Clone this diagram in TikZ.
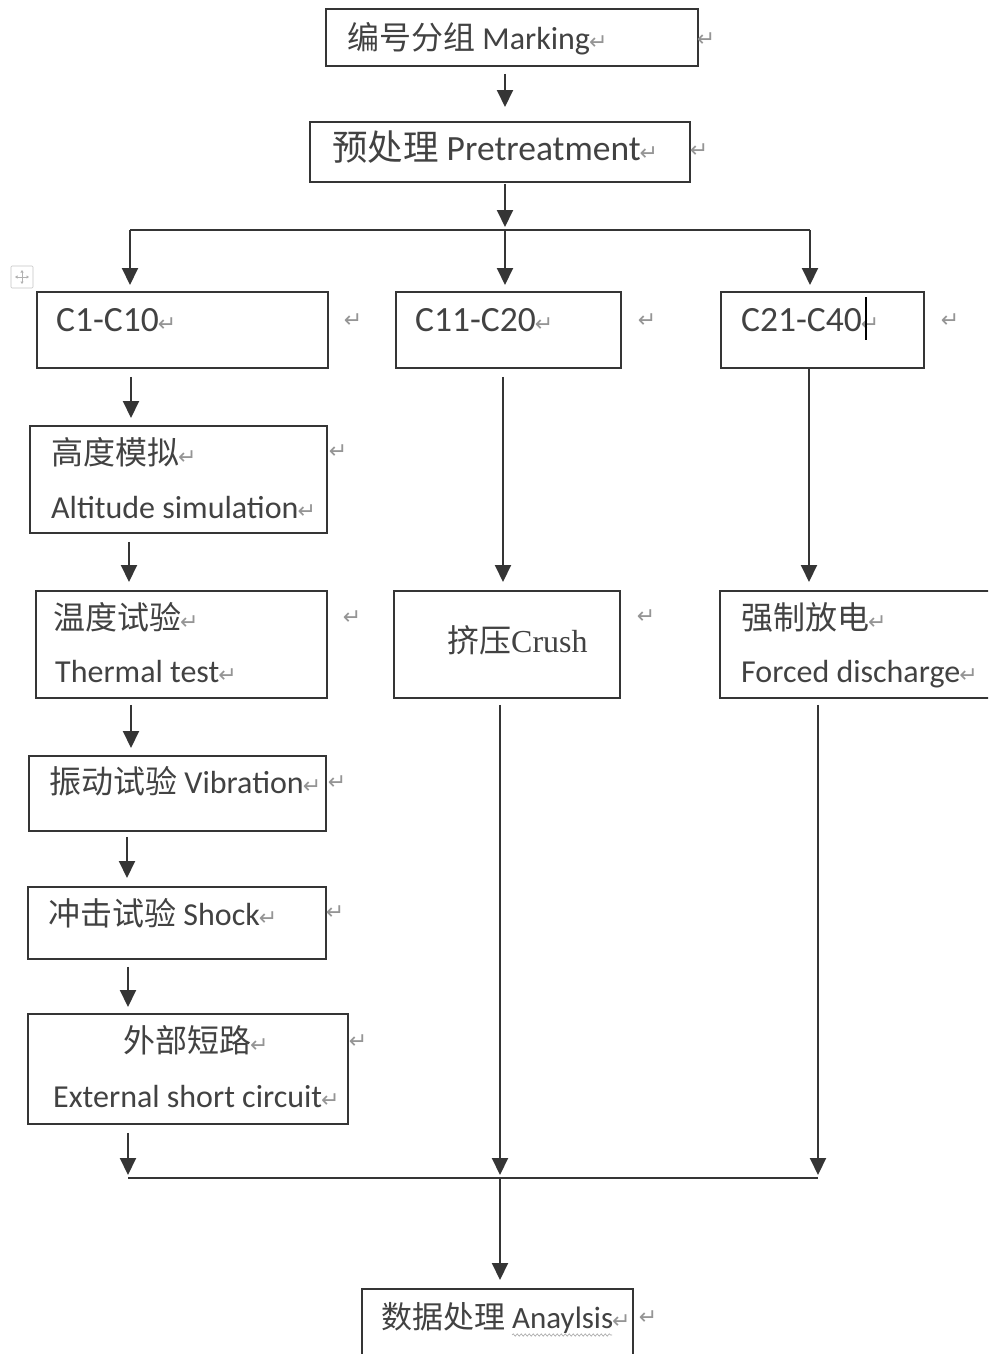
\documentclass[tikz,border=0pt]{standalone}
\usepackage{fontspec}
\setmainfont{Carlito}
\newfontfamily\cjk{Noto Sans CJK SC}
\newfontfamily\symf{DejaVu Sans}
\newfontfamily\serf{Liberation Serif}
\usetikzlibrary{arrows.meta,decorations.pathmorphing}
\definecolor{ink}{HTML}{353535}
\definecolor{txt}{HTML}{424242}
\definecolor{pmark}{HTML}{959595}
\newcommand{\rmk}{{\symf\fontsize{22}{22}\selectfont\color{pmark}\kern-1pt↵}}
\begin{document}
\begin{tikzpicture}[x=1pt,y=-1pt,
  box/.style={draw=ink, line width=1.8pt, rectangle, inner sep=0pt, anchor=north west},
  lbl/.style={anchor=base west, inner sep=0pt, text=txt, font=\fontsize{32}{38}\selectfont},
  big/.style={font=\fontsize{35.5}{40}\selectfont},
  mk/.style={inner sep=0pt, text=pmark, font=\symf\fontsize{22}{22}\selectfont},
  ln/.style={draw=ink, line width=2pt},
  arr/.style={draw=ink, line width=2pt, -{Triangle[length=17pt,width=16pt]}}]
\useasboundingbox (0,0) rectangle (988,1354);
\fill[white] (0,0) rectangle (988,1354);
\clip (0,0) rectangle (988,1354);

% boxes
\node[box, minimum width=372pt, minimum height=57pt] (marking) at (325,8) {};
\node[box, minimum width=380pt, minimum height=60pt] (pre) at (309,121) {};
\node[box, minimum width=291pt, minimum height=76pt] (c1) at (36,291) {};
\node[box, minimum width=225pt, minimum height=76pt] (c11) at (395,291) {};
\node[box, minimum width=203pt, minimum height=76pt] (c21) at (720,291) {};
\node[box, minimum width=297pt, minimum height=107pt] (alt) at (29,425) {};
\node[box, minimum width=291pt, minimum height=107pt] (therm) at (35,590) {};
\node[box, minimum width=226pt, minimum height=107pt] (crush) at (393,590) {};
\node[box, minimum width=300pt, minimum height=107pt] (forced) at (719,590) {};
\node[box, minimum width=297pt, minimum height=75pt] (vib) at (28,755) {};
\node[box, minimum width=298pt, minimum height=72pt] (shock) at (27,886) {};
\node[box, minimum width=320pt, minimum height=110pt] (ext) at (27,1013) {};
\node[box, minimum width=271pt, minimum height=100pt] (ana) at (361,1288) {};

% texts
\node[lbl] (t1) at (347,49) {{\cjk 编号分组} Marking\rmk};
\node[lbl, big] (t2) at (332,160) {{\cjk 预处理} Pretreatment\rmk};
\node[lbl, big] (t3) at (56,331) {C1-C10\rmk};
\node[lbl, big] (t4) at (415,331) {C11-C20\rmk};
\node[lbl, big] (t5) at (741,331) {C21-C40\rmk};
\node[lbl] (t6) at (51,464) {{\cjk 高度模拟}\rmk};
\node[lbl] (t7) at (51,518) {Altitude simulation\rmk};
\node[lbl] (t8) at (53,629) {{\cjk 温度试验}\rmk};
\node[lbl] (t9) at (55,682) {Thermal test\rmk};
\node[lbl] (t10) at (447,652) {{\cjk 挤压}{\serf Crush}};
\node[lbl] (t11) at (741,629) {{\cjk 强制放电}\rmk};
\node[lbl] (t12) at (741,682) {Forced discharge\rmk};
\node[lbl] (t13) at (49,793) {{\cjk 振动试验} Vibration\rmk};
\node[lbl] (t14) at (48,925) {{\cjk 冲击试验} Shock\rmk};
\node[lbl] (t15) at (123,1052) {{\cjk 外部短路}\rmk};
\node[lbl] (t16) at (53,1107) {External short circuit\rmk};
\node[lbl, font=\fontsize{31}{37}\selectfont] (t17) at (381,1328) {{\cjk 数据处理} Anaylsis\rmk};

% paragraph marks outside boxes
\node[mk] (o1) at (706,40) {↵};
\node[mk] (o2) at (699,151) {↵};
\node[mk] (o3) at (353,321) {↵};
\node[mk] (o4) at (647,321) {↵};
\node[mk] (o5) at (950,321) {↵};
\node[mk] (o6) at (338,452) {↵};
\node[mk] (o7) at (352,618) {↵};
\node[mk] (o8) at (646,617) {↵};
\node[mk] (o9) at (337,783) {↵};
\node[mk] (o10) at (335,913) {↵};
\node[mk] (o11) at (358,1042) {↵};
\node[mk] (o12) at (648,1318) {↵};

% text cursor and spelling underline
\draw[black, line width=2pt] (866,297) -- (866,340);
\draw[gray!70, line width=0.6pt, decorate, decoration={snake, amplitude=1.2pt, segment length=4pt}] (512,1335) -- (612,1335);

% table move handle
\node[draw=gray!45, line width=0.6pt, minimum size=22pt, inner sep=0pt, rounded corners=1pt] (handle) at (22,277) {};
\draw[gray!60, line width=0.7pt, {Triangle[length=2.5pt,width=3pt]}-{Triangle[length=2.5pt,width=3pt]}] ([xshift=-7pt]handle.center) -- ([xshift=7pt]handle.center);
\draw[gray!60, line width=0.7pt, {Triangle[length=2.5pt,width=3pt]}-{Triangle[length=2.5pt,width=3pt]}] ([yshift=-7pt]handle.center) -- ([yshift=7pt]handle.center);

% column coordinates
\coordinate (xm) at (505,0);
\coordinate (sT) at (505,230);
\coordinate (sL) at (130,230);
\coordinate (sR) at (810,230);
\coordinate (k1) at (131,0);
\coordinate (k2) at (129,0);
\coordinate (k3) at (131,0);
\coordinate (k4) at (127,0);
\coordinate (k5) at (128,0);
\coordinate (m1) at (503,0);
\coordinate (r1) at (809,0);
\coordinate (bL) at (128,1178);
\coordinate (bM) at (500,1178);
\coordinate (bR) at (818,1178);

% connectors
\draw[arr, shorten <=7pt, shorten >=14pt] (marking.south -| xm) -- (pre.north -| xm);
\draw[arr, shorten <=1pt, shorten >=3pt] (pre.south -| sT) -- (sT);
\draw[ln] (sL) -- (sR);
\draw[arr, shorten >=6pt] (sL) -- (c1.north -| sL);
\draw[arr, shorten >=6pt] (sT) -- (c11.north -| sT);
\draw[arr, shorten >=6pt] (sR) -- (c21.north -| sR);

\draw[arr, shorten <=8pt, shorten >=7pt] (c1.south -| k1) -- (alt.north -| k1);
\draw[arr, shorten <=8pt, shorten >=8pt] (alt.south -| k2) -- (therm.north -| k2);
\draw[arr, shorten <=6pt, shorten >=7pt] (therm.south -| k3) -- (vib.north -| k3);
\draw[arr, shorten <=5pt, shorten >=8pt] (vib.south -| k4) -- (shock.north -| k4);
\draw[arr, shorten <=7pt, shorten >=6pt] (shock.south -| k5) -- (ext.north -| k5);

\draw[arr, shorten <=8pt, shorten >=8pt] (c11.south -| m1) -- (crush.north -| m1);
\draw[arr, shorten >=8pt] (c21.south -| r1) -- (forced.north -| r1);

\draw[arr, shorten <=8pt, shorten >=3pt] (ext.south -| bL) -- (bL);
\draw[arr, shorten <=6pt, shorten >=3pt] (crush.south -| bM) -- (bM);
\draw[arr, shorten <=6pt, shorten >=3pt] (forced.south -| bR) -- (bR);
\draw[ln] (bL) -- (bR);
\draw[arr, shorten >=8pt] (bM) -- (ana.north -| bM);
\end{tikzpicture}
\end{document}
